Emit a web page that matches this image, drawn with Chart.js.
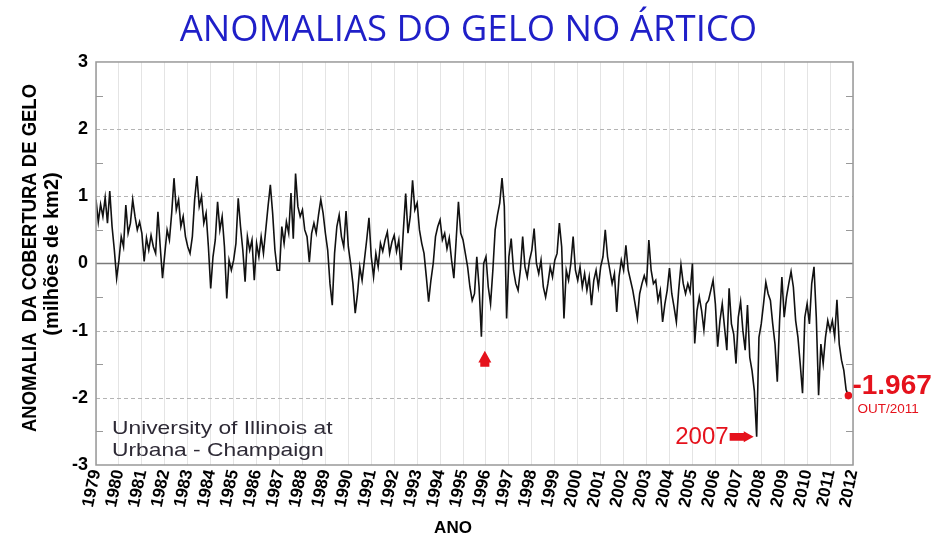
<!DOCTYPE html>
<html lang="pt">
<head>
<meta charset="utf-8">
<title>Anomalias do gelo no Ártico</title>
<script src="https://cdn.jsdelivr.net/npm/chart.js@4.4.1/dist/chart.umd.min.js"></script>
<style>
  html, body { margin: 0; padding: 0; background: #fff; }
  #grafico { display: block; }
</style>
</head>
<body>
<canvas id="grafico" width="937" height="533"></canvas>
<script>
// Anomalia da cobertura de gelo no Ártico (milhões de km2), 10 leituras por ano desde 1979
const anoInicial = 1979;
const leiturasPorAno = 10;

const anomalia1979a1984 = [
  0.95, 0.62, 0.88, 0.70, 0.98, 0.60, 1.08, 0.55, 0.20, -0.22,
  0.05, 0.40, 0.25, 0.87, 0.45, 0.60, 0.95, 0.70, 0.50, 0.62,
  0.45, 0.03, 0.38, 0.20, 0.42, 0.25, 0.15, 0.77, 0.25, -0.22,
  0.15, 0.50, 0.35, 0.75, 1.27, 0.80, 0.95, 0.55, 0.70, 0.40,
  0.25, 0.15, 0.40, 0.95, 1.30, 0.85, 1.00, 0.60, 0.75, 0.25,
  -0.37, 0.10, 0.35, 0.92, 0.50, 0.70, 0.25, -0.52, 0.05, -0.10
];
const anomalia1985a1990 = [
  0.05, 0.30, 0.97, 0.55, 0.20, -0.27, 0.40, 0.20, 0.35, -0.25,
  0.30, 0.10, 0.40, 0.15, 0.50, 0.85, 1.17, 0.75, 0.20, -0.10,
  -0.10, 0.55, 0.30, 0.62, 0.45, 1.05, 0.37, 1.34, 0.85, 0.70,
  0.80, 0.50, 0.40, 0.02, 0.45, 0.60, 0.45, 0.72, 0.95, 0.75,
  0.45, 0.20, -0.30, -0.62, 0.15, 0.55, 0.72, 0.40, 0.25, 0.78,
  0.25, 0.00, -0.30, -0.74, -0.45, -0.05, -0.25, 0.05, 0.35, 0.68
];
const anomalia1991a1996 = [
  0.10, -0.20, 0.15, -0.05, 0.30, 0.18, 0.35, 0.47, 0.15, 0.32,
  0.42, 0.18, 0.35, -0.10, 0.50, 1.04, 0.45, 0.70, 1.24, 0.80,
  0.90, 0.50, 0.30, 0.15, -0.20, -0.57, -0.25, 0.00, 0.40, 0.55,
  0.65, 0.35, 0.45, 0.22, 0.38, 0.05, -0.22, 0.35, 0.92, 0.45,
  0.35, 0.15, -0.05, -0.35, -0.55, -0.45, 0.10, -0.35, -1.09, 0.00,
  0.10, -0.35, -0.60, -0.10, 0.50, 0.72, 0.90, 1.27, 0.85, -0.82
];
const anomalia1997a2002 = [
  0.10, 0.37, -0.10, -0.30, -0.40, -0.10, 0.40, -0.05, -0.20, 0.05,
  0.20, 0.52, 0.00, -0.15, 0.05, -0.35, -0.50, -0.30, -0.05, -0.20,
  0.05, 0.15, 0.60, 0.25, -0.82, -0.10, -0.25, 0.00, 0.40, -0.10,
  -0.25, -0.05, -0.35, -0.15, -0.40, -0.20, -0.62, -0.25, -0.10, -0.35,
  -0.05, 0.10, 0.50, 0.10, -0.10, -0.30, -0.15, -0.72, -0.20, 0.05,
  -0.10, 0.27, -0.10, -0.25, -0.40, -0.60, -0.82, -0.45, -0.30, -0.18
];
const anomalia2003a2008 = [
  -0.30, 0.35, -0.10, -0.30, -0.25, -0.55, -0.40, -0.87, -0.60, -0.40,
  -0.07, -0.45, -0.65, -0.87, -0.40, -0.02, -0.30, -0.45, -0.30, -0.42,
  0.00, -1.19, -0.70, -0.50, -0.70, -0.99, -0.60, -0.55, -0.40, -0.25,
  -0.60, -1.24, -0.85, -0.60, -0.95, -1.29, -0.37, -0.90, -1.05, -1.49,
  -0.80, -0.57, -1.00, -1.29, -0.62, -1.40, -1.60, -1.90, -2.58, -1.10,
  -0.90, -0.60, -0.28, -0.45, -0.55, -0.90, -1.20, -1.76, -0.85, -0.20
];
const anomalia2009a2011 = [
  -0.80, -0.50, -0.30, -0.12, -0.35, -0.85, -1.10, -1.50, -1.93, -0.80,
  -0.60, -0.90, -0.30, -0.05, -0.80, -1.96, -1.20, -1.49, -1.10, -0.85,
  -1.00, -0.85, -1.09, -0.54, -1.20, -1.44, -1.59, -1.88, -1.967
];

const titulo = 'ANOMALIAS DO GELO NO ÁRTICO';
const tituloEixoY = ['ANOMALIA  DA COBERTURA DE GELO', '(milhões de km2)'];
const tituloEixoX = 'ANO';
const creditos = ['University of Illinois at', 'Urbana - Champaign'];
const minimo2007 = { ano: 2007.8, valor: -2.58, rotulo: '2007' };
const minimo1995 = { ano: 1995.95, valor: -1.3 };
const ultimoRotulo = { valor: '-1.967', data: 'OUT/2011' };

const serie = [
  ...anomalia1979a1984, ...anomalia1985a1990, ...anomalia1991a1996,
  ...anomalia1997a2002, ...anomalia2003a2008, ...anomalia2009a2011
];
const pontos = serie.map((v, i) => ({ x: anoInicial + i / leiturasPorAno, y: v }));
const ultimo = pontos.length - 1;

const VERMELHO = '#e5121c';
const fonteArial = "'Liberation Sans', Arial, sans-serif";

// seta "bloco" com a ponta em (px, py); dir: 'cima' ou 'direita'
function seta(ctx, px, py, dir, comp, larg) {
  const h = larg * 0.9;      // tamanho da cabeça
  const c = larg * 0.35;     // meia largura da haste
  ctx.save();
  ctx.translate(px, py);
  if (dir === 'cima') ctx.rotate(-Math.PI / 2);
  ctx.beginPath();
  ctx.moveTo(0, 0);
  ctx.lineTo(-h, -larg / 2);
  ctx.lineTo(-h, -c);
  ctx.lineTo(-comp, -c);
  ctx.lineTo(-comp, c);
  ctx.lineTo(-h, c);
  ctx.lineTo(-h, larg / 2);
  ctx.closePath();
  ctx.fill();
  ctx.restore();
}

// texto com largura ajustada (escala horizontal), opcionalmente girado
function texto(ctx, str, px, py, fonte, escala, girar) {
  ctx.save();
  ctx.translate(px, py);
  if (girar) ctx.rotate(-Math.PI / 2);
  ctx.scale(escala, 1);
  ctx.font = fonte;
  ctx.fillText(str, 0, 0);
  ctx.restore();
}

// grade horizontal: tracejada em ±1 e ±2, contínua no zero
const gradeHorizontal = {
  id: 'gradeHorizontal',
  beforeDatasetsDraw(chart) {
    const { ctx, chartArea: a, scales: { y } } = chart;
    ctx.save();
    [-2, -1, 1, 2].forEach(v => {
      const py = Math.round(y.getPixelForValue(v)) + 0.5;
      ctx.strokeStyle = '#b4b4b4';
      ctx.lineWidth = 1;
      ctx.setLineDash([4, 3]);
      ctx.beginPath();
      ctx.moveTo(a.left, py);
      ctx.lineTo(a.right, py);
      ctx.stroke();
    });
    ctx.setLineDash([]);
    ctx.strokeStyle = '#7a7a7a';
    ctx.lineWidth = 1.5;
    const p0 = y.getPixelForValue(0);
    ctx.beginPath();
    ctx.moveTo(a.left, p0);
    ctx.lineTo(a.right, p0);
    ctx.stroke();
    ctx.restore();
  },
  afterDatasetsDraw(chart) {
    const { ctx, chartArea: a, scales: { y } } = chart;
    ctx.save();
    ctx.strokeStyle = '#999';
    ctx.lineWidth = 1.5;
    ctx.strokeRect(a.left, a.top, a.right - a.left, a.bottom - a.top);
    // tiques menores a cada 0,5 nos dois lados, para dentro
    ctx.lineWidth = 1;
    for (let v = -2.5; v <= 2.5; v += 1) {
      const py = Math.round(y.getPixelForValue(v)) + 0.5;
      ctx.beginPath();
      ctx.moveTo(a.left, py);
      ctx.lineTo(a.left + 7, py);
      ctx.moveTo(a.right - 7, py);
      ctx.lineTo(a.right, py);
      ctx.stroke();
    }
    ctx.restore();
  }
};

// textos e setas sobre o gráfico
const anotacoes = {
  id: 'anotacoes',
  afterDraw(chart) {
    const { ctx, chartArea: a, scales: { x, y } } = chart;
    ctx.save();
    ctx.textBaseline = 'middle';

    // título do eixo y, em duas linhas
    ctx.fillStyle = '#000';
    ctx.textAlign = 'center';
    texto(ctx, tituloEixoY[0], 30, 258, 'bold 21px ' + fonteArial, 0.88, true);
    texto(ctx, tituloEixoY[1], 52, 254, 'bold 20px ' + fonteArial, 1, true);
    ctx.font = 'bold 17px ' + fonteArial;
    ctx.fillText(tituloEixoX, 453, 528);

    ctx.fillStyle = '#2e2a36';
    ctx.textAlign = 'left';
    texto(ctx, creditos[0], a.left + 16, a.bottom - 36, '19px ' + fonteArial, 1.2, false);
    texto(ctx, creditos[1], a.left + 16, a.bottom - 14, '19px ' + fonteArial, 1.2, false);

    ctx.fillStyle = VERMELHO;
    // seta sob o mínimo de 1995
    seta(ctx, x.getPixelForValue(minimo1995.ano), y.getPixelForValue(minimo1995.valor), 'cima', 16, 13);

    // mínimo de 2007
    const mx = x.getPixelForValue(minimo2007.ano) - 3;
    const my = y.getPixelForValue(minimo2007.valor);
    seta(ctx, mx, my, 'direita', 24, 11);
    ctx.font = '24px ' + fonteArial;
    ctx.textAlign = 'right';
    ctx.fillText(minimo2007.rotulo, mx - 25, my + 1);

    // último valor
    const ux = x.getPixelForValue(pontos[ultimo].x);
    const uy = y.getPixelForValue(pontos[ultimo].y);
    ctx.textAlign = 'left';
    ctx.font = 'bold 28px ' + fonteArial;
    ctx.fillText(ultimoRotulo.valor, ux + 4, uy - 9);
    ctx.font = '13.5px ' + fonteArial;
    ctx.fillText(ultimoRotulo.data, ux + 9, uy + 14);
    ctx.restore();
  }
};

new Chart(document.getElementById('grafico'), {
  type: 'line',
  data: {
    datasets: [{
      data: pontos,
      borderColor: '#111',
      borderWidth: 1.6,
      tension: 0,
      pointRadius: c => (c.dataIndex === ultimo ? 3 : 0),
      pointBackgroundColor: VERMELHO,
      pointBorderColor: VERMELHO
    }]
  },
  options: {
    responsive: false,
    animation: false,
    events: [],
    plugins: {
      legend: { display: false },
      tooltip: { enabled: false },
      title: {
        display: true,
        text: titulo,
        color: '#1f1fc8',
        font: { family: "'Open Sans', sans-serif", size: 36.5, weight: 500, lineHeight: 1.15 },
        padding: { top: 10, bottom: 10 }
      }
    },
    scales: {
      x: {
        type: 'linear',
        min: 1979,
        max: 2012,
        grid: { color: '#e4e4e4', drawTicks: false },
        border: { display: false },
        ticks: {
          stepSize: 1,
          autoSkip: false,
          minRotation: 78,
          maxRotation: 78,
          padding: 3,
          color: '#000',
          font: { family: fonteArial, size: 17, weight: 'bold' },
          callback: v => String(v)
        },
        afterFit: s => { s.height = 68; }
      },
      y: {
        min: -3,
        max: 3,
        grid: { display: false, drawTicks: false },
        border: { display: false },
        ticks: {
          stepSize: 1,
          padding: 8,
          color: '#000',
          font: { family: fonteArial, size: 18, weight: 'bold' },
          callback: v => String(v)
        },
        afterFit: s => { s.width = 96; }
      },
      // eixo direito sem rótulos, reserva o espaço da anotação final
      yDireita: {
        position: 'right',
        min: -3,
        max: 3,
        grid: { display: false, drawTicks: false },
        border: { display: false },
        ticks: { display: false },
        afterFit: s => { s.width = 84; }
      }
    }
  },
  plugins: [gradeHorizontal, anotacoes]
});
</script>
</body>
</html>
